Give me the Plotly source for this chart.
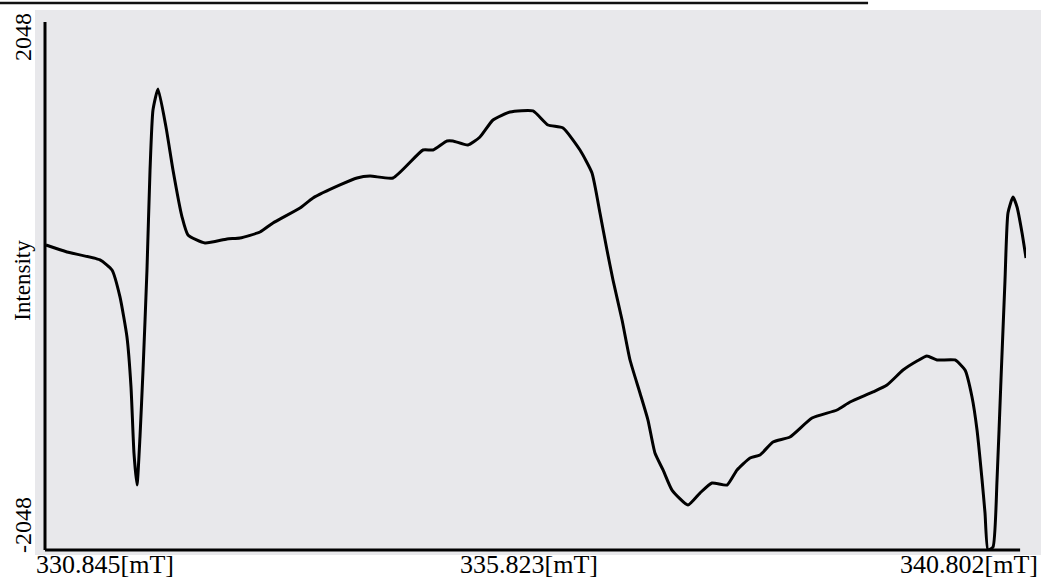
import plotly.graph_objects as go

# Magnetic field (mT) and intensity
field_mT = [
    330.855, 331.068, 331.403, 331.525, 331.606, 331.677, 331.718, 331.748, 331.779,
    331.809, 331.840, 331.880, 331.911, 331.941, 331.992, 332.073, 332.144, 332.236,
    332.296, 332.469, 332.692, 332.824, 333.027, 333.159, 333.433, 333.565, 333.839,
    334.012, 334.144, 334.377, 334.682, 334.783, 334.925, 334.986, 335.138, 335.260,
    335.392, 335.565, 335.798, 335.950, 336.103, 336.275, 336.397, 336.478, 336.549,
    336.610, 336.702, 336.783, 336.884, 336.965, 337.036, 337.118, 337.209, 337.371,
    337.493, 337.615, 337.767, 337.869, 338.001, 338.102, 338.234, 338.406, 338.630,
    338.884, 339.016, 339.249, 339.391, 339.554, 339.696, 339.797, 339.899, 340.081,
    340.183, 340.254, 340.305, 340.356, 340.386, 340.416, 340.467, 340.508, 340.548,
    340.589, 340.619, 340.670, 340.711, 340.762, 340.802,
]
intensity = [
    318, 264, 202, 124, -85, -396, -784, -1296, -1544,
    -1171, -652, 124, 900, 1365, 1528, 1233, 900, 535,
    396, 334, 365, 372, 419, 489, 605, 683, 784,
    838, 853, 838, 1055, 1055, 1125, 1125, 1094, 1156,
    1288, 1350, 1358, 1249, 1226, 1055, 877, 566, 279,
    47, -264, -574, -830, -1040, -1296, -1427, -1583, -1699,
    -1606, -1528, -1544, -1427, -1334, -1311, -1210, -1171, -1024,
    -962, -900, -822, -768, -652, -582, -543, -574, -574,
    -652, -861, -1117, -1505, -1761, -2048, -2025, -1505, -729,
    47, 566, 690, 613, 411, 217,
]

x_range = [330.845, 340.802]
y_range = [-2048, 2048]
x_tick_labels = ["330.845[mT]", "335.823[mT]", "340.802[mT]"]
y_tick_labels = ["2048", "-2048"]
y_title = "Intensity"

FONT = "Liberation Serif, Times New Roman, serif"

fig = go.Figure()
fig.add_trace(go.Scatter(
    x=field_mT, y=intensity, mode="lines",
    line=dict(color="black", width=3, shape="spline", smoothing=0.5),
    hoverinfo="skip", showlegend=False,
))

shapes = [
    # scanned paper background
    dict(type="rect", xref="paper", yref="paper", x0=-0.0102, x1=1.02, y0=-0.0095, y1=1.0227,
         fillcolor="#e8e8eb", line=dict(width=0), layer="below"),
    # top rule
    dict(type="line", xref="paper", yref="paper", x0=-0.05, x1=0.839, y0=1.036, y1=1.036,
         line=dict(color="#111", width=2.5)),
    # axes
    dict(type="line", xref="paper", yref="paper", x0=0, x1=0, y0=0, y1=1,
         line=dict(color="black", width=3)),
    dict(type="line", xref="paper", yref="paper", x0=0, x1=0.994, y0=0, y1=0,
         line=dict(color="black", width=3)),
]

def font(size):
    return dict(size=size, family=FONT, color="black")

annotations = [
    dict(text=y_tick_labels[0], x=-0.0224, y=0.9716, textangle=-90, font=font(24)),
    dict(text=y_tick_labels[1], x=-0.0224, y=0.0473, textangle=-90, font=font(24)),
    dict(text=y_title, x=-0.0224, y=0.51, textangle=-90, font=font(23)),
    dict(text=x_tick_labels[0], x=0.0612, y=-0.0284, font=font(26)),
    dict(text=x_tick_labels[1], x=0.4934, y=-0.0284, font=font(26)),
    dict(text=x_tick_labels[2], x=0.9419, y=-0.0284, font=font(26)),
]
for a in annotations:
    a.update(xref="paper", yref="paper", showarrow=False, xanchor="center", yanchor="middle")

fig.update_layout(
    width=1041, height=579,
    margin=dict(l=45, r=15, t=22, b=29),
    paper_bgcolor="white", plot_bgcolor="rgba(0,0,0,0)",
    xaxis=dict(range=x_range, showgrid=False, zeroline=False, showticklabels=False, showline=False, ticks=""),
    yaxis=dict(range=y_range, showgrid=False, zeroline=False, showticklabels=False, showline=False, ticks=""),
    shapes=shapes, annotations=annotations,
)

fig.write_html(
    "out.html",
    config={"displayModeBar": False},
    post_script="document.body.style.margin='0';document.body.style.overflow='hidden';",
)
